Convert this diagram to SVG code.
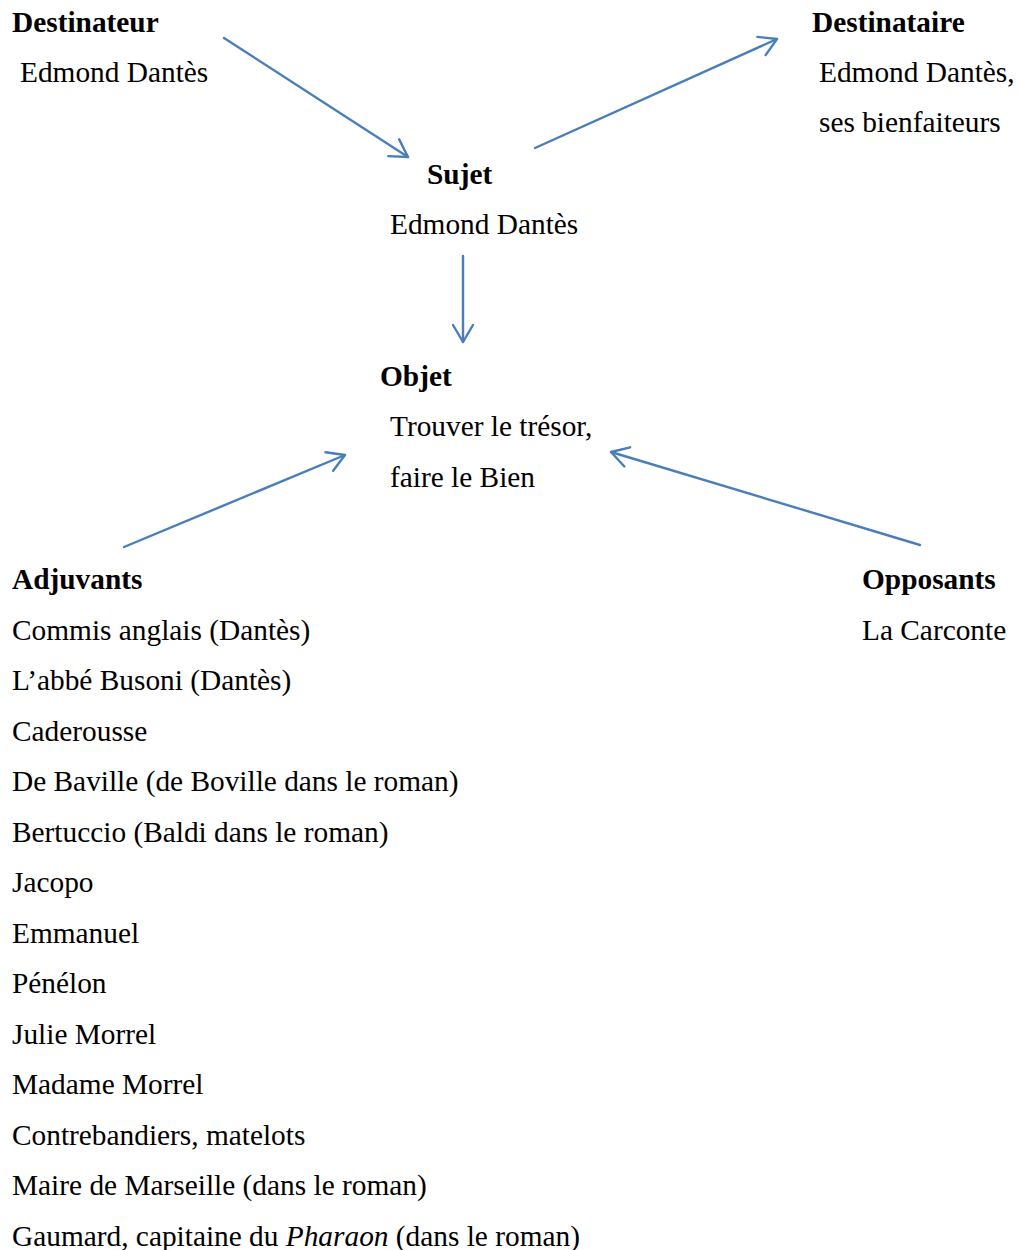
<svg xmlns="http://www.w3.org/2000/svg" width="1019" height="1250" viewBox="0 0 1019 1250">
<style>
text{font-family:"Liberation Serif","Times New Roman",serif;font-size:29.35px;fill:#000}
.b{font-weight:bold}
.c{stroke:#4A7EBB;stroke-width:2.4;fill:none;stroke-linecap:round}
</style>
<defs>
<marker id="ah" markerUnits="userSpaceOnUse" markerWidth="26" markerHeight="26" viewBox="0 0 26 26" refX="21" refY="13" orient="auto">
<path d="M4,3 L21,13 L4,23" fill="none" stroke="#4A7EBB" stroke-width="2.4" stroke-linecap="round" stroke-linejoin="round"/>
</marker>
</defs>
<rect width="1019" height="1250" fill="#fff"/>
<g id="destinateur">
<text x="12" y="32" class="b">Destinateur</text>
<text x="20" y="82">Edmond Dantès</text>
</g>
<g id="destinataire">
<text x="812" y="32" class="b">Destinataire</text>
<text x="819" y="82">Edmond Dantès,</text>
<text x="819" y="132">ses bienfaiteurs</text>
</g>
<g id="sujet">
<text x="427" y="184" class="b">Sujet</text>
<text x="390" y="234">Edmond Dantès</text>
</g>
<g id="objet">
<text x="380" y="386" class="b">Objet</text>
<text x="390" y="436">Trouver le trésor,</text>
<text x="390" y="487">faire le Bien</text>
</g>
<g id="adjuvants">
<text x="12" y="589" class="b">Adjuvants</text>
<text x="12" y="639.5">Commis anglais (Dantès)</text>
<text x="12" y="690">L’abbé Busoni (Dantès)</text>
<text x="12" y="740.5">Caderousse</text>
<text x="12" y="791">De Baville (de Boville dans le roman)</text>
<text x="12" y="841.5">Bertuccio (Baldi dans le roman)</text>
<text x="12" y="892">Jacopo</text>
<text x="12" y="942.5">Emmanuel</text>
<text x="12" y="993">Pénélon</text>
<text x="12" y="1043.5">Julie Morrel</text>
<text x="12" y="1094">Madame Morrel</text>
<text x="12" y="1144.5">Contrebandiers, matelots</text>
<text x="12" y="1195">Maire de Marseille (dans le roman)</text>
<text x="12" y="1245.5">Gaumard, capitaine du <tspan font-style="italic">Pharaon</tspan> (dans le roman)</text>
</g>
<g id="opposants">
<text x="862" y="589" class="b">Opposants</text>
<text x="862" y="639.5">La Carconte</text>
</g>
<g id="connectors">
<line class="c" x1="224" y1="38" x2="408" y2="157" marker-end="url(#ah)"/>
<line class="c" x1="535" y1="148" x2="777" y2="39" marker-end="url(#ah)"/>
<line class="c" x1="463" y1="256" x2="463" y2="342" marker-end="url(#ah)"/>
<line class="c" x1="124" y1="547" x2="345" y2="455" marker-end="url(#ah)"/>
<line class="c" x1="920" y1="545" x2="611" y2="452" marker-end="url(#ah)"/>
</g>
</svg>
